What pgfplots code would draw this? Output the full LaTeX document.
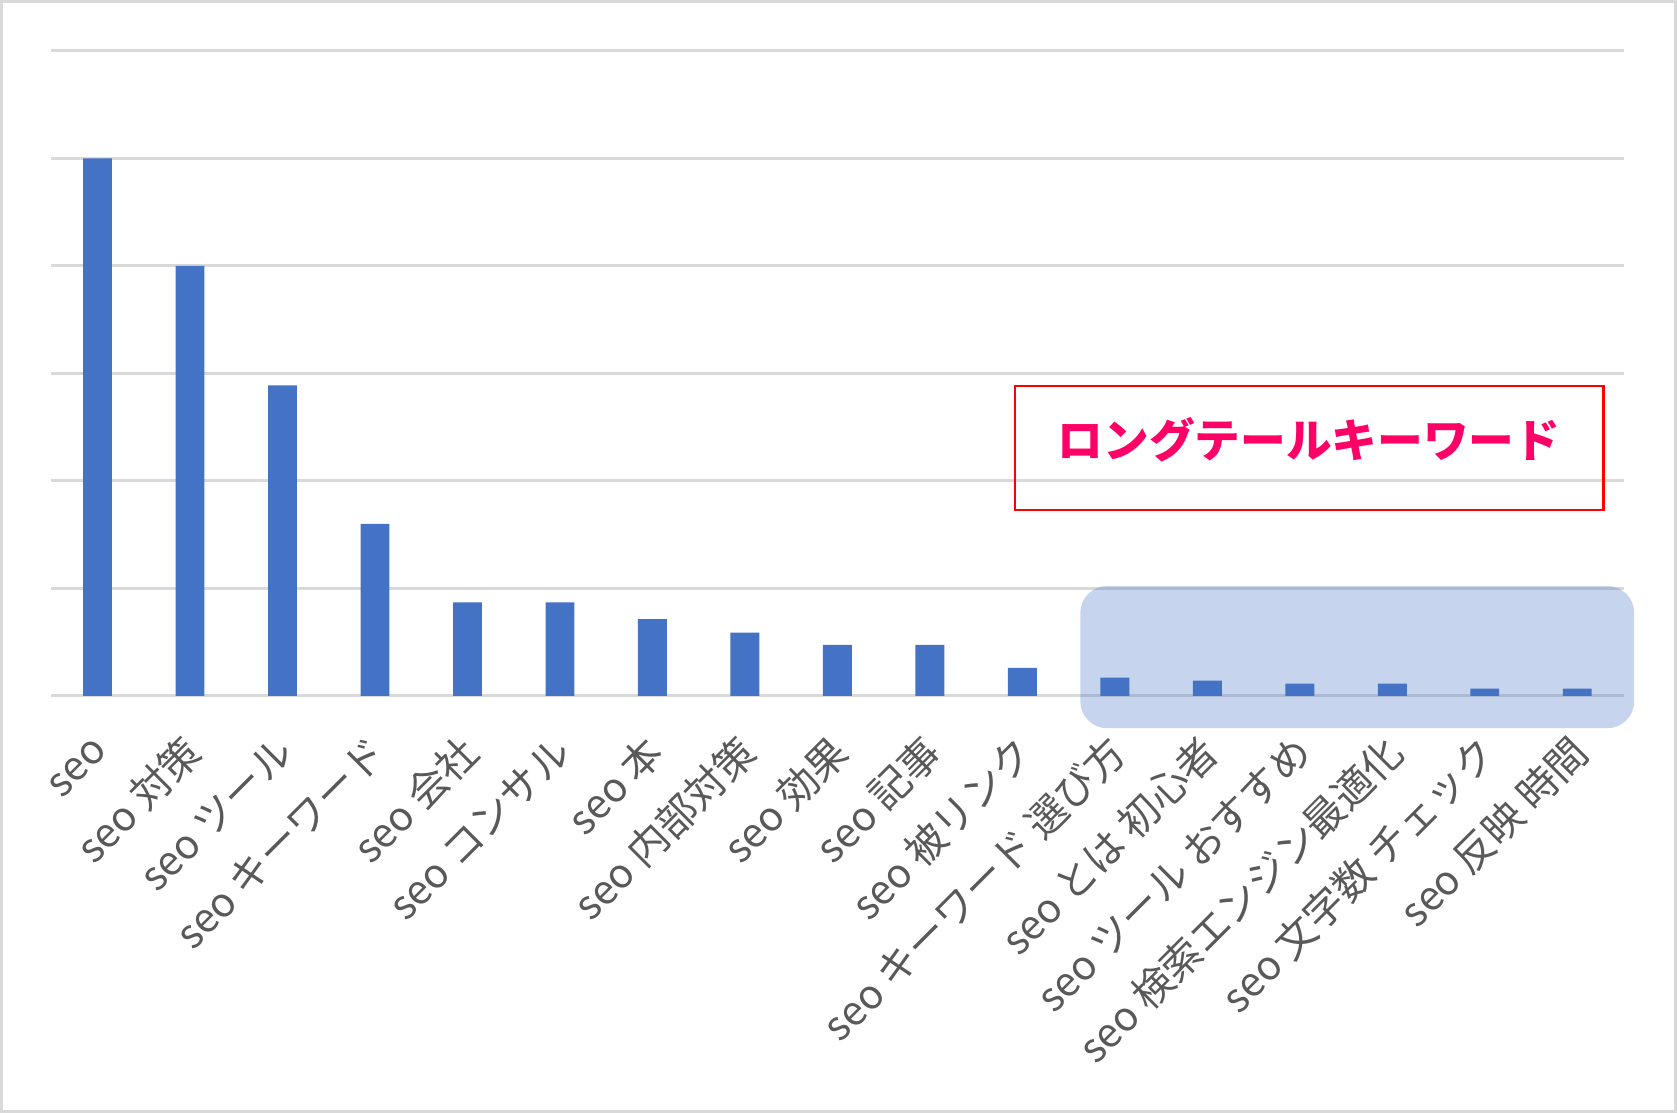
\documentclass[border=0pt]{standalone}
\usepackage{fontspec}
\setmainfont{Noto Sans CJK JP}
\usepackage{pgfplots}
\pgfplotsset{compat=1.18}
\definecolor{barblue}{HTML}{4472C4}
\definecolor{gridgray}{HTML}{D9D9D9}
\definecolor{labelgray}{HTML}{595959}
\definecolor{boxred}{HTML}{FF0000}
\definecolor{textpink}{HTML}{FF0066}
\begin{document}
\begin{tikzpicture}
\begin{axis}[
  scale only axis,
  width=157.22mm, height=64.5mm,
  xmin=-0.5, xmax=16.5, ymin=0, ymax=6,
  ybar, bar width=2.89mm,
  xtick={0,...,16},
  xticklabels={seo,seo 対策,seo ツール,seo キーワード,seo 会社,seo コンサル,seo 本,seo 内部対策,seo 効果,seo 記事,seo 被リンク,seo キーワード 選び方,seo とは 初心者,seo ツール おすすめ,seo 検索エンジン最適化,seo 文字数 チェック,seo 反映 時間},
  xticklabel style={xshift=1.2mm, yshift=-4mm, rotate=45, anchor=east, text=labelgray, font=\fontsize{11.5}{14}\selectfont},
  ytick={0,...,6}, yticklabels={},
  ymajorgrids,
  major grid style={draw=gridgray, line width=0.3mm},
  axis line style={draw=none},
  major tick style={draw=none},
  major tick length=0pt,
  clip=false,
]
\addplot[fill=barblue, draw=none] coordinates {
 (0,5) (1,4) (2,2.89) (3,1.60) (4,0.87) (5,0.87) (6,0.715) (7,0.59) (8,0.475)
 (9,0.475) (10,0.262) (11,0.17) (12,0.142) (13,0.114) (14,0.114) (15,0.068) (16,0.068)};
\fill[barblue, fill opacity=0.3, rounded corners=2.7mm] (axis cs:10.626,-0.300) rectangle (axis cs:16.616,1.023);
\draw[boxred, line width=0.25mm] (axis cs:9.922,1.730) rectangle (axis cs:16.281,2.884);
\node[text=textpink, font=\bfseries\fontsize{13}{15}\selectfont, inner sep=0pt] at (axis cs:13.1,2.386) {ロングテールキーワード};
\draw[gridgray, line width=0.3mm] (rel axis cs:-0.03168,-0.6442) rectangle (rel axis cs:1.03308,1.0767);
\end{axis}
\end{tikzpicture}
\end{document}
